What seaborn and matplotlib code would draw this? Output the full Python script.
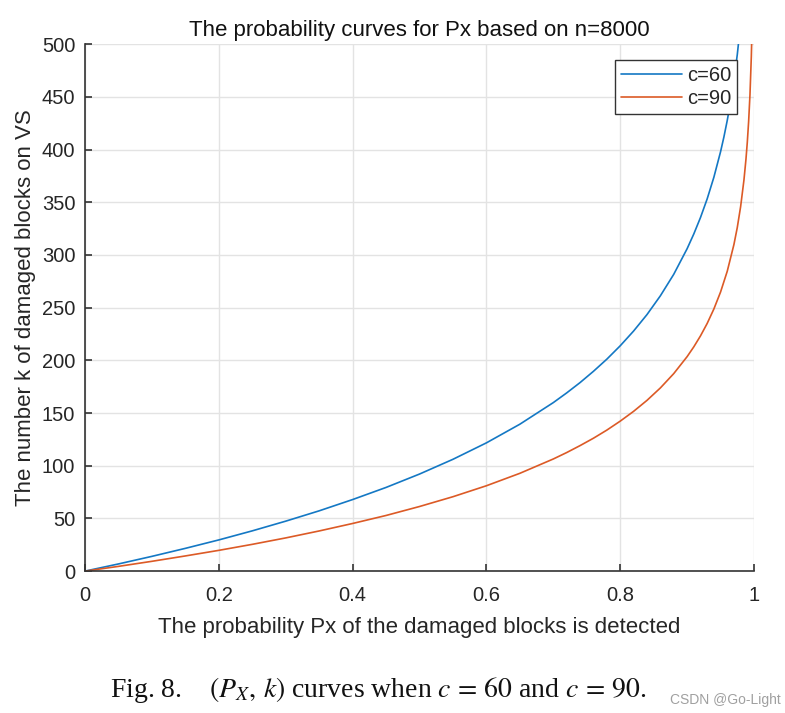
import pandas as pd
import matplotlib.pyplot as plt
import seaborn as sns

sns.set_style('whitegrid')
plt.rcParams['font.family'] = ['Liberation Sans', 'DejaVu Sans']
plt.rcParams['mathtext.fontset'] = 'stix'

# 数据
px_60 = [0, 0.05, 0.1, 0.15, 0.2, 0.25, 0.3, 0.35, 0.4, 0.45, 0.5, 0.55, 0.6, 0.65,
         0.7, 0.72, 0.74, 0.76, 0.78, 0.8, 0.82, 0.84, 0.86, 0.88, 0.9, 0.91, 0.92,
         0.93, 0.94, 0.95, 0.955, 0.96, 0.965, 0.97, 0.975, 0.98]
k_60 = [0, 6.8, 14.0, 21.6, 29.6, 38.2, 47.4, 57.2, 67.9, 79.4, 92.1, 106.1, 121.7, 139.4,
        159.9, 169.1, 178.9, 189.6, 201.1, 213.8, 227.8, 243.4, 261.2, 281.6, 305.9, 319.9, 335.5,
        353.2, 373.7, 397.9, 411.9, 427.6, 445.3, 465.8, 490.0, 519.6]

px_90 = [0, 0.05, 0.1, 0.15, 0.2, 0.25, 0.3, 0.35, 0.4, 0.45, 0.5, 0.55, 0.6, 0.65,
         0.7, 0.72, 0.74, 0.76, 0.78, 0.8, 0.82, 0.84, 0.86, 0.88, 0.9, 0.91, 0.92,
         0.93, 0.94, 0.95, 0.96, 0.97, 0.975, 0.98, 0.985, 0.988, 0.99, 0.992, 0.994,
         0.996, 0.997]
k_90 = [0, 4.5, 9.3, 14.4, 19.7, 25.4, 31.5, 38.1, 45.2, 52.8, 61.3, 70.6, 81.0, 92.8,
        106.4, 112.5, 119.1, 126.1, 133.8, 142.3, 151.6, 162.0, 173.8, 187.4, 203.5, 212.8, 223.2,
        235.0, 248.7, 264.8, 284.5, 309.9, 326.0, 345.8, 371.2, 390.9, 407.0, 426.8, 452.2,
        488.0, 513.4]

df = pd.concat([
    pd.DataFrame({'Px': px_60, 'k': k_60, 'c': 'c=60'}),
    pd.DataFrame({'Px': px_90, 'k': k_90, 'c': 'c=90'}),
])

fig = plt.figure(figsize=(7.85, 7.13), dpi=100)
ax = fig.add_axes([0.1083, 0.199, 0.8522, 0.739])

sns.lineplot(data=df, x='Px', y='k', hue='c', palette=['#1478c4', '#dc5a26'],
             linewidth=1.2, ax=ax, sort=False)

ax.set_xlim(0, 1)
ax.set_ylim(0, 500)
ax.set_xticks([0, 0.2, 0.4, 0.6, 0.8, 1])
ax.set_xticklabels(['0', '0.2', '0.4', '0.6', '0.8', '1'])
ax.set_yticks(range(0, 501, 50))

ax.grid(True, color='#e3e3e3', linewidth=1)
for s in ['top', 'right']:
    ax.spines[s].set_visible(False)
for s in ['left', 'bottom']:
    ax.spines[s].set_color('#333333')
    ax.spines[s].set_linewidth(1.2)
ax.tick_params(direction='in', length=5, width=1.2, color='#333333',
               labelsize=14.5, labelcolor='#262626', left=True, bottom=True)
ax.tick_params(axis='y', pad=7)
ax.tick_params(axis='x', pad=10.5)

ax.set_title('The probability curves for Px based on n=8000', fontsize=16, color='#111111', pad=6)
ax.set_xlabel('The probability Px of the damaged blocks is detected', fontsize=16, color='#262626', labelpad=9)
ax.set_ylabel('The number k of damaged blocks on VS', fontsize=16, color='#262626', labelpad=4)

leg = ax.legend(loc='upper right', bbox_to_anchor=(0.9746, 0.9696), fontsize=14.5,
                handlelength=3.0, fancybox=False, framealpha=1, edgecolor='#333333',
                borderpad=0.3, labelspacing=0.2, handletextpad=0.25, borderaxespad=0)
leg.get_frame().set_linewidth(1.0)

fig.text(0.140, 0.023, r'Fig. 8.    $(P_X,\, k)$ curves when $c\,=\,60$ and $c\,=\,90$.',
         fontsize=20, family='Liberation Serif', color='#111111', va='baseline')
fig.text(0.853, 0.013, 'CSDN @Go-Light', fontsize=10, color='#a0a0a0')

plt.savefig('out.png', dpi=100)
